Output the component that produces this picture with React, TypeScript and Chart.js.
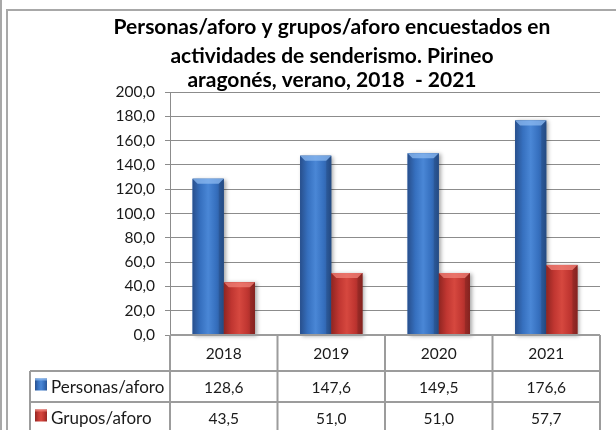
import React, { useEffect, useRef } from 'react';
import { Chart, registerables } from 'chart.js';

Chart.register(...registerables);

const categories = ['2018', '2019', '2020', '2021'];
const personasAforo = [128.6, 147.6, 149.5, 176.6];
const gruposAforo = [43.5, 51.0, 51.0, 57.7];
const seriesNames = ['Personas/aforo', 'Grupos/aforo'];
const titleLines = [
  'Personas/aforo y grupos/aforo encuestados en',
  'actividades de senderismo. Pirineo',
  'aragonés, verano, 2018  - 2021',
];
const yMin = 0;
const yMax = 200;
const yStep = 20;

const FONT = 'Lato, "Open Sans", sans-serif';
const GRID = '#8c8c8c';
const TABLE_LINE = '#9c9c9c';

const palettes = [
  { base: '#3a74c4', stops: ['#284f8c', '#3670bf', '#4a87d6', '#3670bf', '#2a5595'], bevel: 'rgba(140,185,240,0.75)' },
  { base: '#c63b35', stops: ['#8f2521', '#c03631', '#d6483f', '#c03631', '#962824'], bevel: 'rgba(240,130,120,0.75)' },
];

const fmt = (v: number) => v.toFixed(1).replace('.', ',');

function fillGradientRect(ctx: CanvasRenderingContext2D, left: number, top: number, w: number, h: number, pal: any) {
  const g = ctx.createLinearGradient(left, 0, left + w, 0);
  const n = pal.stops.length;
  pal.stops.forEach((c: string, i: number) => g.addColorStop(i / (n - 1), c));
  ctx.fillStyle = g;
  ctx.fillRect(left, top, w, h);
}

const framePlugin = {
  id: 'frame',
  beforeDraw(chart: any) {
    const ctx = chart.ctx as CanvasRenderingContext2D;
    ctx.save();
    ctx.fillStyle = '#ffffff';
    ctx.fillRect(0, 0, chart.width, chart.height);
    ctx.strokeStyle = '#a8a8a8';
    ctx.lineWidth = 2;
    ctx.beginPath();
    ctx.moveTo(1, 0);
    ctx.lineTo(1, chart.height);
    ctx.stroke();
    ctx.beginPath();
    ctx.moveTo(7, chart.height + 5);
    ctx.lineTo(7, 10);
    ctx.lineTo(chart.width + 5, 10);
    ctx.stroke();
    ctx.fillStyle = '#000';
    ctx.font = 'bold 21px ' + FONT;
    ctx.textAlign = 'center';
    ctx.textBaseline = 'middle';
    const ys = [27, 56, 80];
    titleLines.forEach((t, i) => ctx.fillText(t, 332, ys[i]));
    ctx.restore();
  },
};

const bar3dPlugin = {
  id: 'bar3d',
  afterDatasetsDraw(chart: any) {
    const ctx = chart.ctx as CanvasRenderingContext2D;
    chart.data.datasets.forEach((_ds: any, di: number) => {
      const meta = chart.getDatasetMeta(di);
      const pal = palettes[di];
      meta.data.forEach((el: any) => {
        const { x, y, base, width } = el.getProps(['x', 'y', 'base', 'width'], true);
        const left = x - width / 2;
        const h = base - y;
        ctx.save();
        ctx.shadowColor = 'rgba(0,0,0,0.35)';
        ctx.shadowBlur = 4;
        ctx.shadowOffsetX = 2;
        ctx.shadowOffsetY = 1;
        fillGradientRect(ctx, left, y, width, h, pal);
        ctx.restore();
        ctx.save();
        const b = Math.min(5, h / 2);
        ctx.fillStyle = pal.bevel;
        ctx.beginPath();
        ctx.moveTo(left, y);
        ctx.lineTo(left + width, y);
        ctx.lineTo(left + width - b, y + b);
        ctx.lineTo(left + b, y + b);
        ctx.closePath();
        ctx.fill();
        ctx.fillStyle = 'rgba(0,0,0,0.12)';
        ctx.beginPath();
        ctx.moveTo(left + width, y);
        ctx.lineTo(left + width, base);
        ctx.lineTo(left + width - b, base);
        ctx.lineTo(left + width - b, y + b);
        ctx.closePath();
        ctx.fill();
        ctx.restore();
      });
    });
  },
};

const tablePlugin = {
  id: 'dataTable',
  afterDraw(chart: any) {
    const ctx = chart.ctx as CanvasRenderingContext2D;
    const area = chart.chartArea;
    const xs = chart.scales.x;
    const colW = (area.right - area.left) / categories.length;
    const rowTops = [area.bottom, area.bottom + 36, area.bottom + 67, area.bottom + 98];
    const tableLeft = 30;
    ctx.save();
    ctx.strokeStyle = TABLE_LINE;
    ctx.lineWidth = 2;
    ctx.beginPath();
    ctx.moveTo(area.left, rowTops[0]);
    ctx.lineTo(area.right, rowTops[0]);
    for (let r = 1; r < rowTops.length; r++) {
      ctx.moveTo(tableLeft, rowTops[r]);
      ctx.lineTo(area.right, rowTops[r]);
    }
    for (let c = 0; c <= categories.length; c++) {
      const xx = area.left + c * colW;
      ctx.moveTo(xx, rowTops[0]);
      ctx.lineTo(xx, rowTops[3]);
    }
    ctx.moveTo(tableLeft, rowTops[1]);
    ctx.lineTo(tableLeft, rowTops[3]);
    ctx.stroke();

    ctx.fillStyle = '#1a1a1a';
    ctx.font = '15.5px ' + FONT;
    ctx.textBaseline = 'middle';
    ctx.textAlign = 'center';
    categories.forEach((c, i) => {
      const cx = xs.getPixelForValue(i);
      ctx.fillText(c, cx, (rowTops[0] + rowTops[1]) / 2 + 1);
    });
    const seriesData = [personasAforo, gruposAforo];
    seriesData.forEach((arr, si) => {
      const cy = (rowTops[si + 1] + rowTops[si + 2]) / 2;
      ctx.textAlign = 'center';
      ctx.fillStyle = '#1a1a1a';
      ctx.font = '15.5px ' + FONT;
      arr.forEach((v, i) => {
        ctx.fillText(fmt(v), xs.getPixelForValue(i), cy + 1);
      });
      const pal = palettes[si];
      fillGradientRect(ctx, 35, cy - 8, 12, 12, pal);
      ctx.fillStyle = pal.bevel;
      ctx.fillRect(35, cy - 8, 12, 2);
      ctx.fillStyle = '#1a1a1a';
      ctx.textAlign = 'left';
      ctx.font = '17px ' + FONT;
      ctx.fillText(seriesNames[si], 51, cy + 1);
    });
    ctx.restore();
  },
};

export default function App() {
  const ref = useRef<HTMLCanvasElement | null>(null);
  useEffect(() => {
    if (!ref.current) return;
    const chart = new Chart(ref.current, {
      type: 'bar',
      data: {
        labels: categories,
        datasets: [
          { label: seriesNames[0], data: personasAforo, backgroundColor: palettes[0].base, borderWidth: 0 },
          { label: seriesNames[1], data: gruposAforo, backgroundColor: palettes[1].base, borderWidth: 0 },
        ],
      },
      options: {
        responsive: false,
        animation: false,
        layout: { padding: { top: 92, right: 16, bottom: 0, left: 0 } },
        plugins: { legend: { display: false }, title: { display: false }, tooltip: { enabled: false } },
        datasets: { bar: { categoryPercentage: 0.58, barPercentage: 1.0 } },
        scales: {
          x: {
            ticks: { display: false },
            grid: { display: false },
            border: { display: false },
            afterFit: (scale: any) => { scale.height = 95; },
          },
          y: {
            min: yMin,
            max: yMax,
            ticks: {
              stepSize: yStep,
              padding: 10,
              color: '#1a1a1a',
              font: { family: FONT, size: 15.5 },
              callback: (v: any) => fmt(Number(v)),
            },
            grid: { color: GRID, lineWidth: 1, tickLength: 5, drawTicks: true },
            border: { color: GRID, width: 1 },
            afterFit: (scale: any) => { scale.width = 170; },
          },
        },
      },
      plugins: [framePlugin, bar3dPlugin, tablePlugin],
    } as any);
    return () => chart.destroy();
  }, []);
  return (
    <div style={{ position: 'fixed', left: 0, top: 0, width: 616, height: 430, background: '#fff' }}>
      <canvas ref={ref} width={616} height={430} style={{ display: 'block' }} />
    </div>
  );
}
